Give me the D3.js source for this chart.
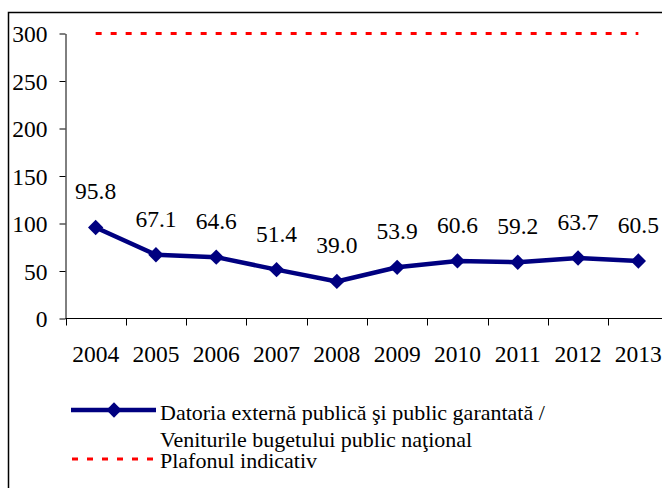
<!DOCTYPE html>
<html>
<head>
<meta charset="utf-8">
<script src="https://cdn.jsdelivr.net/npm/d3@7"></script>
<style>
  body { margin: 0; background: #fff; }
  svg, svg text { font-family: "Times New Roman", "Liberation Serif", "DejaVu Serif", serif !important; }
</style>
</head>
<body>
<div id="chart"></div>
<script>
const years = ['2004', '2005', '2006', '2007', '2008', '2009', '2010', '2011', '2012', '2013']
const ratio = [95.8, 67.1, 64.6, 51.4, 39.0, 53.9, 60.6, 59.2, 63.7, 60.5]
const ceiling = [300, 300, 300, 300, 300, 300, 300, 300, 300, 300]
const yTicks = [0, 50, 100, 150, 200, 250, 300]
const seriesNames = ['Datoria externă publică şi public garantată /', 'Veniturile bugetului public naţional']
const ceilingName = 'Plafonul indicativ'

const width = 662, height = 488
const navy = '#000080'
const numSize = 23.5

const svg = d3.select('#chart').append('svg')
    .attr('width', width)
    .attr('height', height)

// outer frame (only left and top visible)
svg.append('path')
    .attr('d', `M8.5,${height} V12.5 H${width}`)
    .attr('fill', 'none')
    .attr('stroke', '#000')
    .attr('stroke-width', 1.5)

const left = 65.5
const x = d3.scaleBand()
    .domain(years)
    .range([left, left + 603])

const y = d3.scaleLinear()
    .domain([0, 300])
    .range([318.5, 33.5])

const cx = d => x(d) + x.bandwidth() / 2

// y axis
const axisY = svg.append('g')
    .attr('transform', `translate(${left},0)`)
    .call(d3.axisLeft(y).tickValues(yTicks).tickSize(6).tickPadding(12).tickSizeOuter(0))
axisY.attr('font-family', null)
axisY.select('.domain').attr('stroke', '#000')
axisY.selectAll('.tick line').attr('stroke', '#000')
axisY.selectAll('.tick text')
    .attr('font-size', numSize)
    .attr('fill', '#000')
    .attr('dy', '0.35em')

// x axis
const axisX = svg.append('g')
    .attr('transform', `translate(0,${y(0)})`)
    .call(d3.axisBottom(x).tickSize(0).tickPadding(27))
axisX.attr('font-family', null)
axisX.select('.domain').attr('stroke', '#000').attr('d', `M${left},0H${width}`)
axisX.selectAll('.tick text')
    .attr('font-size', numSize)
    .attr('fill', '#000')

// tick marks between categories
svg.append('g').selectAll('line')
    .data(years)
    .join('line')
    .attr('x1', d => Math.round(x(d)) + 0.5)
    .attr('x2', d => Math.round(x(d)) + 0.5)
    .attr('y1', y(0))
    .attr('y2', y(0) + 7)
    .attr('stroke', '#000')

// ceiling line
svg.append('path')
    .datum(ceiling)
    .attr('d', d3.line().x((d, i) => cx(years[i])).y(d => y(d)))
    .attr('fill', 'none')
    .attr('stroke', '#ff0000')
    .attr('stroke-width', 3)
    .attr('stroke-dasharray', '6,9')

// ratio line
svg.append('path')
    .datum(ratio)
    .attr('d', d3.line().x((d, i) => cx(years[i])).y(d => y(d)))
    .attr('fill', 'none')
    .attr('stroke', navy)
    .attr('stroke-width', 4.5)
    .attr('stroke-linejoin', 'round')

const diamond = d3.symbol().type(d3.symbolDiamond2).size(150)

svg.append('g').selectAll('path')
    .data(ratio)
    .join('path')
    .attr('d', diamond)
    .attr('transform', (d, i) => `translate(${cx(years[i])},${y(d)})`)
    .attr('fill', navy)

svg.append('g').selectAll('text')
    .data(ratio)
    .join('text')
    .attr('x', (d, i) => cx(years[i]))
    .attr('y', d => y(d) - 28)
    .attr('text-anchor', 'middle')
    .attr('font-size', numSize)
    .attr('fill', '#000')
    .text(d => d.toFixed(1))

// legend
const legend = svg.append('g')
legend.append('line')
    .attr('x1', 71).attr('x2', 156)
    .attr('y1', 410).attr('y2', 410)
    .attr('stroke', navy)
    .attr('stroke-width', 4.5)
legend.append('path')
    .attr('d', diamond)
    .attr('transform', 'translate(114,410)')
    .attr('fill', navy)
legend.selectAll('text.s')
    .data(seriesNames)
    .join('text')
    .attr('class', 's')
    .attr('x', 160)
    .attr('y', (d, i) => 420 + i * 27)
    .attr('font-size', 22)
    .attr('fill', '#000')
    .text(d => d)
legend.append('line')
    .attr('x1', 72).attr('x2', 156)
    .attr('y1', 459).attr('y2', 459)
    .attr('stroke', '#ff0000')
    .attr('stroke-width', 3)
    .attr('stroke-dasharray', '6,9')
legend.append('text')
    .attr('x', 160)
    .attr('y', 468)
    .attr('font-size', 22)
    .attr('fill', '#000')
    .text(ceilingName)
</script>
</body>
</html>
